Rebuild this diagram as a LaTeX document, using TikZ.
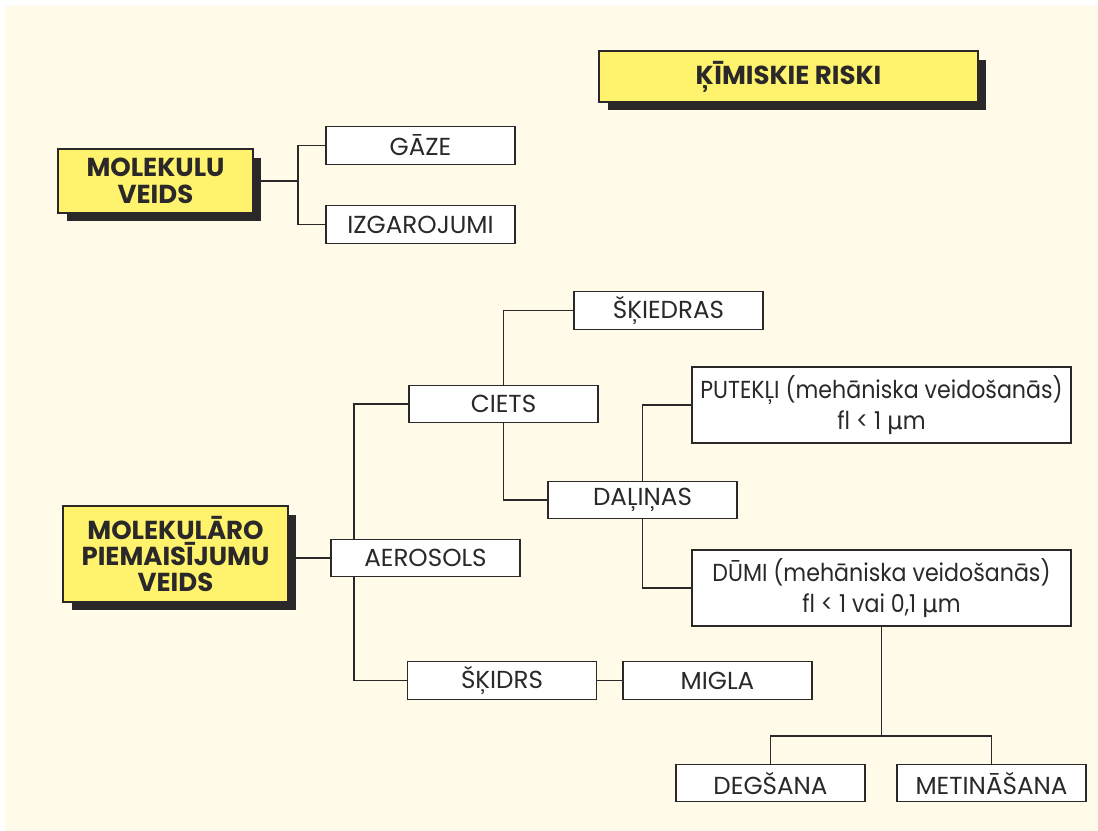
\documentclass[tikz,border=0pt]{standalone}
\usepackage{fontspec}
\setmainfont{Poppins}
\newfontfamily\narrowfont[FakeStretch=0.9]{Poppins}
\newfontfamily\symfont{DejaVu Sans}
\usetikzlibrary{shadows}

\definecolor{paper}{HTML}{FFFBE8}
\definecolor{marker}{HTML}{FFF36E}
\definecolor{ink}{HTML}{2A2829}

\pgfdeclarelayer{paperlayer}
\pgfdeclarelayer{wires}
\pgfsetlayers{paperlayer,wires,main}

\begin{document}
\begin{tikzpicture}[
			x=0.02cm, y=-0.02cm,
			every node/.style={text=ink, font=\fontsize{14}{17}\selectfont},
			box/.style={draw=ink, line width=0.75pt, fill=white, inner sep=0pt,
				minimum width=3.78cm, minimum height=0.75cm, align=center},
			widebox/.style={box, minimum width=7.58cm, minimum height=1.52cm,
				font=\fontsize{14}{17.5}\selectfont\narrowfont},
			title/.style={draw=ink, line width=0.75pt, fill=marker, inner sep=0pt, align=center,
				font=\fontsize{14.8}{15}\selectfont\bfseries,
				drop shadow={shadow xshift=0.17cm, shadow yshift=-0.17cm, fill=ink, opacity=1}},
			wire/.style={draw=ink, line width=0.6pt},
			]

			% --- Paper ---
			\useasboundingbox (0,0) rectangle (1098,831);
			\begin{pgfonlayer}{paperlayer}
				\fill[paper] (5,6) rectangle (1098,831);
			\end{pgfonlayer}

			% --- Headings ---
			\node[title, minimum width=7.58cm, minimum height=1.02cm] (risk) at (788.5,76.5) {ĶĪMISKIE RISKI};
			\node[title, minimum width=3.9cm, minimum height=1.28cm] (molv) at (155.5,181) {MOLEKULU\\VEIDS};
			\node[title, minimum width=4.5cm, minimum height=1.92cm] (molp) at (175.5,554) {MOLEKULĀRO\\PIEMAISĪJUMU\\VEIDS};

			% --- Boxes ---
			\node[box] (gaze) at (420.5,145.5) {GĀZE};
			\node[box] (izg) at (420.5,224.5) {IZGAROJUMI};

			\node[box] (aero) at (425.5,558) {AEROSOLS};
			\node[box] (ciets) at (503.5,404) {CIETS};
			\node[box] (skied) at (668.5,310.5) {ŠĶIEDRAS};
			\node[box] (dal) at (642.5,500) {DAĻIŅAS};
			\node[widebox] (put) at (881.5,405) {PUTEKĻI (mehāniska veidošanās)\\fl < 1 {\symfont µ}m};
			\node[widebox] (dumi) at (881.5,588) {DŪMI (mehāniska veidošanās)\\fl < 1 vai 0,1 {\symfont µ}m};
			\node[box] (skidrs) at (502,680.5) {ŠĶIDRS};
			\node[box] (migla) at (717.5,680.5) {MIGLA};
			\node[box] (deg) at (770.5,783) {DEGŠANA};
			\node[box] (met) at (991.5,783) {METINĀŠANA};

			% --- Connectors (behind the boxes) ---
			\begin{pgfonlayer}{wires}
				\coordinate (j1) at (298,181);
				\draw[wire] (molv.east) -- (j1);
				\draw[wire] (gaze.west) -| (j1) |- (izg.west);

				\coordinate (j2) at (354,558);
				\draw[wire] (molp.east |- aero.west) -- (aero.west);
				\draw[wire] (ciets.west) -| (j2) |- (skidrs.west);
				\draw[wire] (skied.west) -| (ciets.north);
				\draw[wire] (ciets.south) |- (dal.west);
				\draw[wire] (put.west) -| (dal.north);
				\draw[wire] (dal.south) |- (dumi.west);
				\draw[wire] (skidrs) -- (migla);

				\coordinate (j3) at (881.5,736);
				\draw[wire] (dumi.south) -- (j3);
				\draw[wire] (deg.north) |- (j3) -| (met.north);
			\end{pgfonlayer}

		\end{tikzpicture}
\end{document}
